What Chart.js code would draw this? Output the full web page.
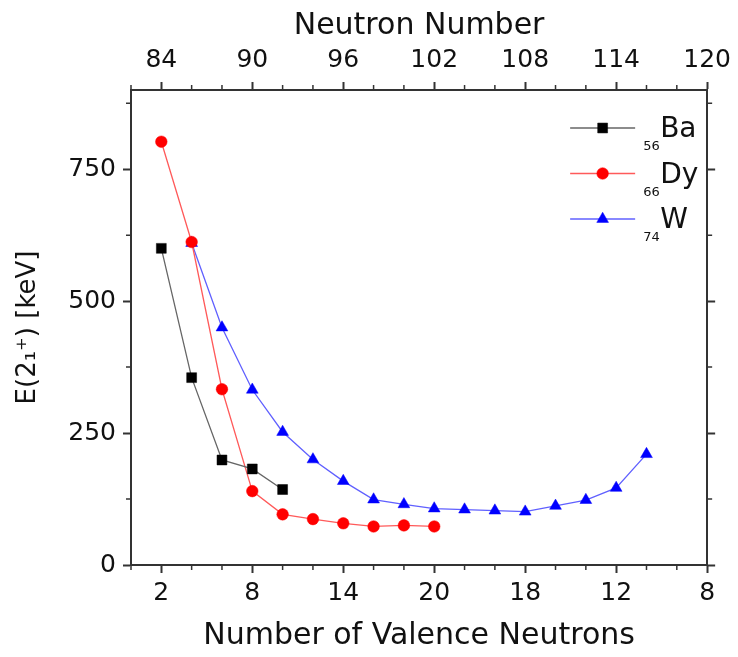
<!DOCTYPE html>
<html><head><meta charset="utf-8">
<script src="https://cdn.jsdelivr.net/npm/chart.js@4/dist/chart.umd.min.js"></script>
<style>html,body{margin:0;padding:0;background:#fff;}#wrap{width:738px;height:657px;}</style>
</head><body><div id="wrap"><canvas id="c" width="738" height="657"></canvas></div>
<script>
// ---- data ----
const neutronTicks = [84, 90, 96, 102, 108, 114, 120];
const neutronTickLabels = ['84', '90', '96', '102', '108', '114', '120'];
const valenceTickLabels = ['2', '8', '14', '20', '18', '12', '8'];
const energyTicks = [0, 250, 500, 750];
const energyTickLabels = ['0', '250', '500', '750'];

const baNeutrons = [84, 86, 88, 90, 92];
const baEnergy = [600, 355, 199, 182, 143];
const dyNeutrons = [84, 86, 88, 90, 92, 94, 96, 98, 100, 102];
const dyEnergy = [802, 612, 333, 140, 96, 87, 79, 73, 75, 73];
const wNeutrons = [86, 88, 90, 92, 94, 96, 98, 100, 102, 104, 106, 108, 110, 112, 114, 116];
const wEnergy = [610, 450, 332, 252, 200, 159, 124, 115, 107, 105, 103, 101, 112, 123, 146, 210];

const seriesNames = ['Ba', 'Dy', 'W'];
const seriesZ = ['56', '66', '74'];

const FONT = '"DejaVu Sans", "Liberation Sans", Arial, sans-serif';
const AXIS = '#333333';
const TXT = '#111111';

function pts(xs, ys) { return xs.map((x, i) => ({ x: x, y: ys[i] })); }

const minorTicks = {
  id: 'minorTicks',
  afterDraw(chart) {
    const ctx = chart.ctx, a = chart.chartArea;
    const sx = chart.scales.x, sy = chart.scales.y;
    ctx.save();
    ctx.strokeStyle = AXIS; ctx.lineWidth = 1.5;
    ctx.beginPath();
    for (let v = sx.min; v <= sx.max; v += 2) {
      if (neutronTicks.includes(v)) continue;
      const p = sx.getPixelForValue(v);
      ctx.moveTo(p, a.bottom); ctx.lineTo(p, a.bottom + 5);
      ctx.moveTo(p, a.top); ctx.lineTo(p, a.top - 5);
    }
    for (let v = 125; v < sy.max; v += 250) {
      const p = sy.getPixelForValue(v);
      ctx.moveTo(a.left, p); ctx.lineTo(a.left - 5, p);
      ctx.moveTo(a.right, p); ctx.lineTo(a.right + 5, p);
    }
    ctx.stroke();
    ctx.restore();
  }
};

const insideLegend = {
  id: 'insideLegend',
  afterDraw(chart) {
    const ctx = chart.ctx, a = chart.chartArea;
    ctx.save();
    chart.data.datasets.forEach((ds, i) => {
      const y = a.top + 38 + i * 45.5;
      const x0 = a.right - 137, x1 = a.right - 72, xm = (x0 + x1) / 2;
      ctx.strokeStyle = ds.borderColor; ctx.lineWidth = ds.borderWidth;
      ctx.beginPath(); ctx.moveTo(x0, y); ctx.lineTo(x1, y); ctx.stroke();
      ctx.fillStyle = ds.pointBackgroundColor; ctx.strokeStyle = ds.pointBorderColor;
      ctx.lineWidth = ds.pointBorderWidth;
      Chart.helpers.drawPoint(ctx, { pointStyle: ds.pointStyle, radius: ds.pointRadius, borderWidth: ds.pointBorderWidth, rotation: 0 }, xm, y);
      ctx.fillStyle = TXT;
      ctx.textBaseline = 'alphabetic'; ctx.textAlign = 'left';
      ctx.font = '13px ' + FONT;
      ctx.fillText(seriesZ[i], a.right - 64, y + 22);
      ctx.font = '28px ' + FONT;
      ctx.fillText(seriesNames[i], a.right - 47, y + 9);
    });
    ctx.restore();
  }
};

function xAxis(position, labels, title, titlePad, height) {
  return {
    type: 'linear', position: position, min: 82, max: 120,
    afterBuildTicks: s => { s.ticks = neutronTicks.map(v => ({ value: v })); },
    afterFit: s => { s.height = height; },
    ticks: { callback: (v, i) => labels[i], font: { family: FONT, size: 25 }, color: TXT,
             padding: position === 'top' ? 7 : 5, maxRotation: 0, autoSkip: false },
    grid: { drawOnChartArea: false, drawTicks: true, tickLength: 8, tickColor: AXIS, tickWidth: 2 },
    border: { display: true, color: AXIS, width: 2 },
    title: { display: true, text: title, font: { family: FONT, size: 30 }, color: TXT, padding: titlePad }
  };
}

new Chart(document.getElementById('c'), {
  type: 'scatter',
  data: {
    datasets: [
      { label: seriesNames[0], data: pts(baNeutrons, baEnergy), showLine: true,
        borderColor: '#666666', borderWidth: 1.3, pointStyle: 'rect', pointRadius: 7,
        pointBackgroundColor: '#000000', pointBorderColor: '#000000', pointBorderWidth: 0.5 },
      { label: seriesNames[1], data: pts(dyNeutrons, dyEnergy), showLine: true,
        borderColor: '#ff5a5a', borderWidth: 1.3, pointStyle: 'circle', pointRadius: 5.8,
        pointBackgroundColor: '#ff0000', pointBorderColor: '#ff0000', pointBorderWidth: 0.5 },
      { label: seriesNames[2], data: pts(wNeutrons, wEnergy), showLine: true,
        borderColor: '#6060ff', borderWidth: 1.3, pointStyle: 'triangle', pointRadius: 6.8,
        pointBackgroundColor: '#0000ff', pointBorderColor: '#0000ff', pointBorderWidth: 0.5 }
    ]
  },
  options: {
    responsive: false, animation: false, devicePixelRatio: 1,
    layout: { padding: 0 },
    plugins: { legend: { display: false }, tooltip: { enabled: false } },
    scales: {
      x: xAxis('bottom', valenceTickLabels, 'Number of Valence Neutrons', { top: 0, bottom: 3 }, 92),
      x2: xAxis('top', neutronTickLabels, 'Neutron Number', { top: 8, bottom: 0 }, 90),
      y: {
        type: 'linear', position: 'left', min: 0, max: 900,
        afterBuildTicks: s => { s.ticks = energyTicks.map(v => ({ value: v })); },
        afterFit: s => { s.width = 131; },
        ticks: { callback: (v, i) => energyTickLabels[i], font: { family: FONT, size: 25 }, color: TXT, padding: 7 },
        grid: { drawOnChartArea: false, drawTicks: true, tickLength: 8, tickColor: AXIS, tickWidth: 2 },
        border: { display: true, color: AXIS, width: 2 },
        title: { display: true, text: 'E(2₁⁺) [keV]', font: { family: FONT, size: 26 }, color: TXT, padding: { top: 13, bottom: 0 } }
      },
      y2: {
        type: 'linear', position: 'right', min: 0, max: 900,
        afterBuildTicks: s => { s.ticks = energyTicks.map(v => ({ value: v })); },
        afterFit: s => { s.width = 28; },
        ticks: { display: false },
        grid: { drawOnChartArea: false, drawTicks: true, tickLength: 8, tickColor: AXIS, tickWidth: 2 },
        border: { display: true, color: AXIS, width: 2 }
      }
    }
  },
  plugins: [minorTicks, insideLegend]
});
</script>
</body></html>
